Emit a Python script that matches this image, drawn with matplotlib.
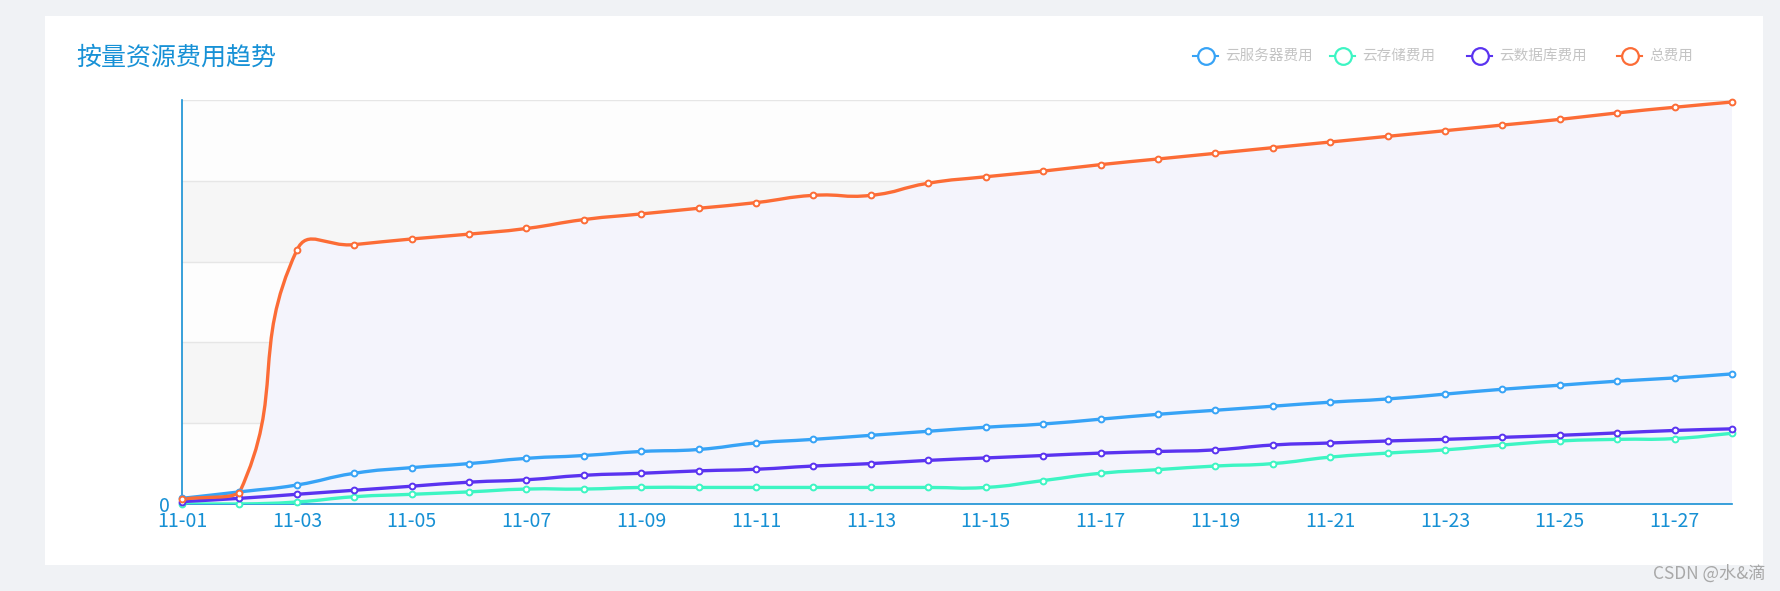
import numpy as np
import matplotlib.pyplot as plt
from matplotlib.path import Path
from matplotlib.patches import PathPatch, Rectangle

plt.rcParams['font.family'] = ['Noto Sans CJK SC', 'DejaVu Sans']

# ------------------------------------------------------------------
# Data (y units are arbitrary, axis labels hidden)
# ------------------------------------------------------------------
dates = [f"11-{d:02d}" for d in range(1, 29)]

series_names = ["云服务器费用", "云存储费用", "云数据库费用", "总费用"]
series_colors = ["#37a3f6", "#3df5c3", "#5a33f0", "#fc6c36"]

blue = [0.07, 0.15, 0.235, 0.38, 0.45, 0.50, 0.565, 0.60, 0.65, 0.675,
        0.755, 0.80, 0.85, 0.90, 0.95, 0.99, 1.05, 1.11, 1.16, 1.21,
        1.26, 1.30, 1.36, 1.42, 1.47, 1.52, 1.56, 1.61]
green = [0.0, 0.0, 0.025, 0.09, 0.12, 0.15, 0.185, 0.185, 0.205, 0.205,
         0.205, 0.205, 0.205, 0.205, 0.205, 0.29, 0.38, 0.425, 0.47, 0.50,
         0.58, 0.63, 0.67, 0.73, 0.78, 0.80, 0.81, 0.875]
purple = [0.03, 0.07, 0.12, 0.17, 0.22, 0.27, 0.30, 0.355, 0.38, 0.41,
          0.43, 0.47, 0.50, 0.54, 0.57, 0.60, 0.63, 0.65, 0.67, 0.73,
          0.755, 0.78, 0.80, 0.825, 0.85, 0.88, 0.91, 0.93]
orange = [0.06, 0.14, 3.14, 3.21, 3.28, 3.34, 3.41, 3.52, 3.59, 3.66,
          3.73, 3.82, 3.82, 3.97, 4.05, 4.12, 4.20, 4.27, 4.34, 4.41,
          4.48, 4.55, 4.62, 4.69, 4.76, 4.84, 4.91, 4.975]

y_ticks = [0, 1, 2, 3, 4, 5]
y_tick_labels = ["0", "", "", "", "", ""]

W, H = 1781, 591
AXIS_BLUE = "#1690d4"


def smooth_path(xs, ys, sx, sy, smooth=0.5):
    """echarts-like smooth line: bezier control points from the neighbours,
    kept inside the bounding box of the points."""
    pts = np.column_stack([xs, ys]).astype(float)
    n = len(pts)
    scale = np.array([sx, sy])
    lo, hi = pts.min(axis=0), pts.max(axis=0)
    cps_in, cps_out = [], []
    for i in range(n):
        p = pts[i]
        prev_p = pts[i - 1] if i > 0 else p
        next_p = pts[i + 1] if i < n - 1 else p
        v = (next_p - prev_p) * smooth
        d0 = np.linalg.norm((p - prev_p) * scale)
        d1 = np.linalg.norm((next_p - p) * scale)
        tot = d0 + d1
        if tot > 0:
            d0, d1 = d0 / tot, d1 / tot
        cps_in.append(np.clip(p - v * d0, lo, hi))
        cps_out.append(np.clip(p + v * d1, lo, hi))
    verts = [pts[0]]
    codes = [Path.MOVETO]
    for i in range(1, n):
        verts += [cps_out[i - 1], cps_in[i], pts[i]]
        codes += [Path.CURVE4] * 3
    return np.array(verts), codes


fig = plt.figure(figsize=(W / 100, H / 100), dpi=100)
fig.patch.set_facecolor("#f0f2f5")

# white card
fig.patches.append(Rectangle((45 / W, 1 - 565 / H), (1763 - 45) / W, (565 - 16) / H,
                             transform=fig.transFigure, facecolor="white",
                             edgecolor="none", zorder=-5))

ax = fig.add_axes([182 / W, 1 - 504 / H, (1732 - 182) / W, (504 - 100) / H])
ax.set_zorder(2)
ax.set_facecolor("none")
x = np.arange(len(dates))
ax.set_xlim(0, len(dates) - 1)
ax.set_ylim(0, 5)

# pixel scale for smoothing
sx = (1732 - 182) / (len(dates) - 1)
sy = (504 - 100) / 5

# split area bands
band_colors = ["#fdfdfd", "#f6f6f6"]
for i in range(5):
    ax.axhspan(i, i + 1, color=band_colors[i % 2], zorder=0, lw=0)
for t in y_ticks[1:]:
    ax.axhline(t, color="#e6e6e6", lw=1, zorder=1)

# light area under the orange (top) line
verts, codes = smooth_path(x, orange, sx, sy)
area_verts = np.vstack([verts, [[x[-1], 0], [x[0], 0], verts[0]]])
area_codes = codes + [Path.LINETO, Path.LINETO, Path.CLOSEPOLY]
ax.add_patch(PathPatch(Path(area_verts, area_codes), facecolor="#f4f4fc",
                       edgecolor="none", zorder=2))

all_series = [blue, green, purple, orange]
for name, vals, col in zip(series_names, all_series, series_colors):
    verts, codes = smooth_path(x, vals, sx, sy)
    ax.add_patch(PathPatch(Path(verts, codes), facecolor="none", edgecolor=col,
                           lw=2.4, zorder=3, capstyle="round", joinstyle="round"))
    ax.plot(x, vals, ls="none", marker="o", ms=4.2, mfc="white", mec=col,
            mew=1.4, zorder=4, clip_on=False)

# axes styling
for s in ["top", "right"]:
    ax.spines[s].set_visible(False)
ax.spines["left"].set_color(AXIS_BLUE)
ax.spines["bottom"].set_color(AXIS_BLUE)
ax.spines["left"].set_linewidth(1.2)
ax.spines["bottom"].set_linewidth(1.2)

ax.set_xticks(x[::2])
ax.set_xticklabels(dates[::2])
ax.set_yticks(y_ticks)
ax.set_yticklabels(y_tick_labels)
ax.tick_params(axis="both", length=0, colors=AXIS_BLUE)
ax.tick_params(axis="x", pad=5)
ax.tick_params(axis="y", pad=9)
for lbl in ax.get_xticklabels() + ax.get_yticklabels():
    lbl.set_fontsize(14)

# title
fig.text(76 / W, 1 - 58 / H, "按量资源费用趋势", fontsize=18, color="#1791d6",
         ha="left", va="center")

# legend (names are masked in the reference, drawn light gray)
legend_x = [1193, 1330, 1467, 1617]
for lx, name, col in zip(legend_x, series_names, series_colors):
    ly = 1 - 56 / H
    fig.add_artist(plt.Line2D([lx / W, (lx + 25) / W], [ly, ly], color=col,
                              lw=1.5, transform=fig.transFigure))
    fig.add_artist(plt.Line2D([(lx + 13) / W], [ly], marker="o", ms=12,
                              mfc="white", mec=col, mew=1.6,
                              transform=fig.transFigure))
    fig.text((lx + 32) / W, ly, name, fontsize=10.5, color="#c4c4c4",
             ha="left", va="center")

# watermark
fig.text(1766 / W, 1 - 574 / H, "CSDN @水&滴", fontsize=12.5, color="#a8a8a8",
         ha="right", va="center")

fig.savefig("out.png", dpi=100, facecolor=fig.get_facecolor())
